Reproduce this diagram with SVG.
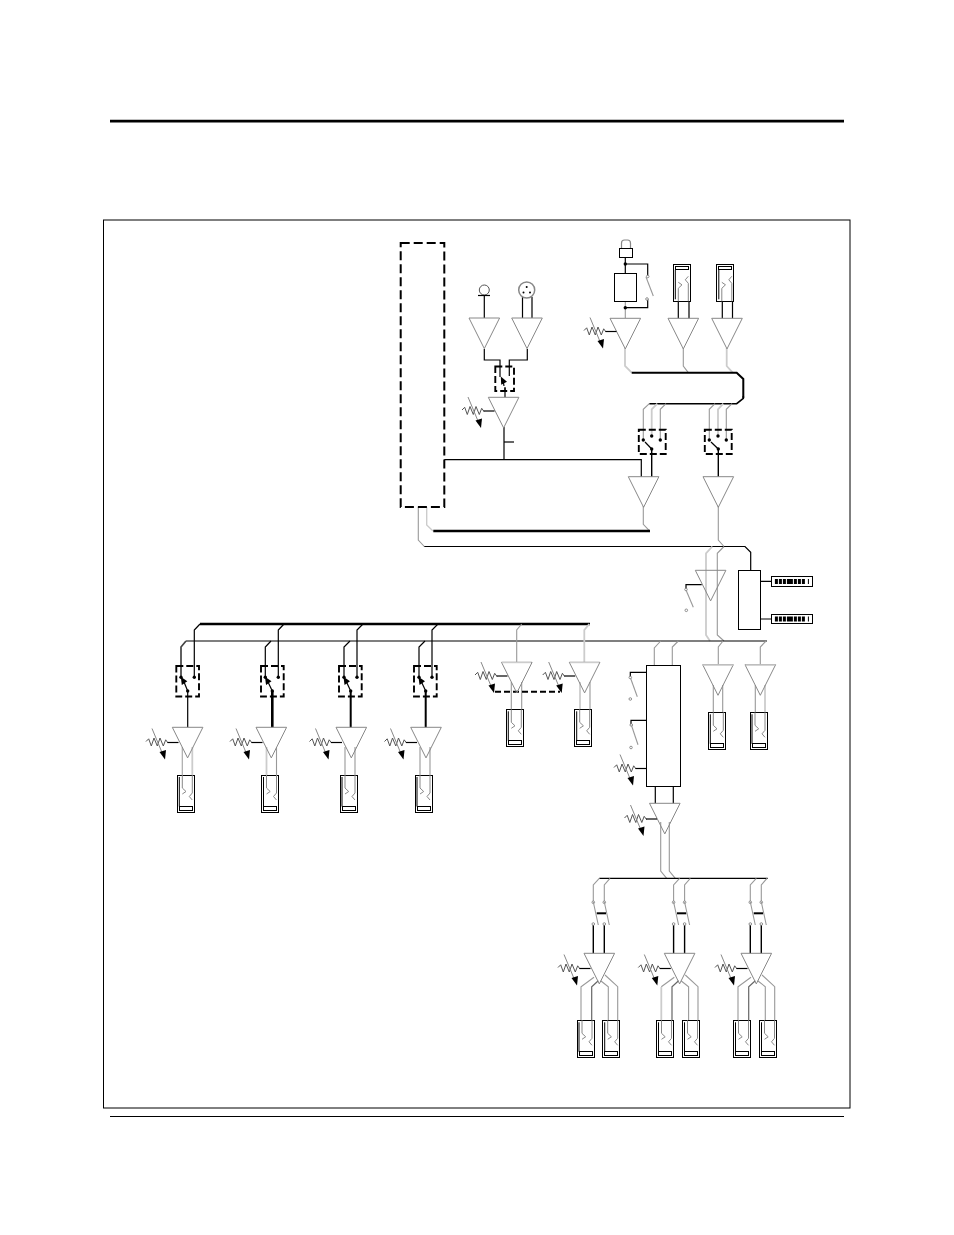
<svg xmlns="http://www.w3.org/2000/svg" width="954" height="1235" viewBox="0 0 954 1235">
<style>
.g{fill:none;stroke:#999;stroke-width:1.1}
.l{fill:none;stroke:#ccc;stroke-width:1.8}
.d{fill:none;stroke:#666;stroke-width:1.2}
.k{fill:none;stroke:#000;stroke-width:1.2}
.k2{fill:none;stroke:#000;stroke-width:2}
.k3{fill:none;stroke:#000;stroke-width:2.6}
.box{fill:#fff;stroke:#000;stroke-width:1;shape-rendering:crispEdges}
.dash{fill:none;stroke:#000;stroke-width:1.9;stroke-dasharray:7 3}
.dot{fill:#000}
.o{fill:#fff;stroke:#777;stroke-width:.8}
.tri{fill:none;stroke:#888;stroke-width:1}
</style>
<defs>
<path id="tri" class="tri" d="M0 0H30.6L15.3 30.6Z"/>
<g id="pot">
<path class="g" style="stroke:#555;stroke-width:1" d="M0 -1L2.7 -3.7L5.3 3.5L8 -4.5L11.3 3.5L14 -4.5L17.3 3.5L19.7 -2.7L22 0.5"/>
<path class="k" d="M21.5 0H32.5"/>
<path class="g" style="stroke:#888;stroke-width:1" d="M6 -14L16 10"/>
<path d="M13.5 9.5L20 7.5L19 17Z"/>
</g>
<g id="jack">
<rect class="box" style="fill:none" x="0" y="0" width="17" height="37"/>
<rect class="box" style="fill:none" x="2" y="31.5" width="13" height="3.5"/>
<path class="k" style="stroke-width:1" d="M2 2V31.5"/>
<path class="g" style="stroke:#888;stroke-width:1" d="M5 0V13L8.7 16.5L5 19M15 0V18L12 21.5L15 25"/>
</g>
<g id="meter">
<rect class="box" x="0" y="0" width="41" height="9.5"/>
<path style="fill:none;stroke:#000;stroke-width:5;stroke-dasharray:3 1 3 1 3 1 6 1 3 1 3 1 3" d="M3.4 4.8H38"/>
</g>
<circle id="o" class="o" r="1.3"/>
<circle id="p" class="dot" r="1.7"/>
<path id="head" d="M-3 3L-0.5 -5L3.5 2Z"/>
</defs>

<g id="page">
<path d="M110 121.2H844" stroke="#000" stroke-width="2.8" fill="none"/>
<path d="M110 1116.5H844" stroke="#000" stroke-width="1" fill="none"/>
<rect x="103.5" y="220" width="746.5" height="888" fill="none" stroke="#000" stroke-width="1"/>
</g>

<g id="connectors">
<path class="k" d="M484.3 295V318M522.5 297V318M532 297V318"/>
<path class="k" d="M484.3 349V360H500V377M527.3 349V360H509.3V376M505 388V397.3M504 427V459.5"/>
<path class="k" d="M504 442H514"/>
<path class="k" d="M444.3 459.7H641.3V476.7"/>
<path class="k" d="M625.3 257V273M625.3 264H647.7V276M647.7 299V307.7H625.3"/>
<path class="g" d="M625.3 301V318"/>
<path class="k" d="M678.3 301.3V318.3M689 301.3V318.3M722.3 301.3V318.3M732.5 301.3V318.3"/>
<path class="l" d="M625 348V366L631.7 372.7M726.7 348V366L732.7 372.7"/>
<path class="g" d="M683.3 348V366L688.3 372.7"/>
<path class="k2" d="M631.7 372.7H736.7L743.3 379V398"/>
<path class="k" style="stroke-width:1.6" d="M743.3 396V398.3L736.7 403.7H649.3"/>
<path class="g" d="M649.3 403.7L643.3 409.3V440M666 403.7L660.3 409.3V440M715 403.7L709.3 409.3V440M732 403.7L726.3 409.3V440"/>
<path class="l" d="M657.3 403.7L651.7 409.3V436M723.3 403.7L718 409.3V436"/>
<path class="k" style="stroke-width:1.4" d="M651.7 449V476.7M718.3 449V476.7"/>
<path class="g" d="M643.3 506V524.3L649.3 530.7M718.3 506V540L724 546.5"/>
<path class="l" style="stroke-width:1.4" d="M426.7 507V525L433 531"/>
<path class="k3" d="M433.3 531H650"/>
<path class="g" d="M418.3 507V540L424.3 546.5"/>
<path class="k" d="M424.3 546.5H745L750.7 552.3V570.3"/>
<path class="l" d="M712.3 546.5L706 553.3V635L710 641"/>
<path class="g" d="M724 546.5L717.3 553.3V635L724 641"/>
<path class="k" d="M701.7 584.7H686V589"/>
<path class="k" d="M760.3 581.3H771.7M760.3 619H771.7"/>
<path class="k3" d="M200 624H590"/>
<path class="k" d="M186 641H767"/>
<path class="k2" style="stroke:#444;stroke-width:1.7" d="M186 641L181 647V677.3"/>
<path class="k" d="M200 624L194.3 630V677.3M187.7 691V727.3"/>
<path class="k" d="M271 641L265.3 647V677.3M284 624L278.3 630V677.3"/>
<path class="k3" d="M272.3 691V727.3"/>
<path class="k" d="M350 641L344 647V677.3M363 624L357 630V677.3"/>
<path class="k2" d="M350.7 691V727.3"/>
<path class="k" d="M425 641L419 647V677.3M438 624L432 630V677.3"/>
<path class="k2" d="M425.7 691V727.3"/>
<path class="d" style="stroke:#aaa" d="M182.3 747V775"/>
<path class="l" d="M192.3 747V775"/>
<path class="l" d="M266.5 747V775"/>
<path class="g" d="M276.5 747V775"/>
<path class="g" d="M345 747V775M355 747V775M420 747V775M430 747V775"/>
<path class="g" d="M521.7 624L516.7 630V662.3"/>
<path class="l" d="M589.3 624L584.3 630V662.3"/>
<path class="g" d="M511.3 682V709.3M521.7 682V709.3M590 682V709.3"/>
<path class="l" d="M580 682V709.3"/>
<path class="k" style="stroke-width:2;stroke-dasharray:6 3" d="M495 691.7H560"/>
<path class="g" d="M660.7 641L654.3 648V665.3M678.3 641L672.3 647V665.3"/>
<path class="k" d="M646 672.3H630.3V677M646 720.3H631V725"/>
<path class="k" d="M655.3 786V803.3M673.3 786V803.3"/>
<path class="g" d="M660.7 822V871L666.7 878.3M669.3 822V871L675.3 878.3"/>
<path class="g" d="M723 641L718.3 647V664.7M766 641L760.3 647V664.7"/>
<path class="g" d="M713.3 685V712.3M722.7 685V712.3M755.3 685V712.3"/>
<path class="l" d="M765 685V712.3"/>
<path class="k" d="M599.3 878.3H767.7"/>
<path class="g" d="M599.3 878.3L593.3 885V902M610 878.3L604.3 885V902"/>
<path class="k" style="stroke-width:1.4" d="M593.3 925V953.3M604.3 925V953.3"/>
<path class="k2" d="M596.7 913.3H606"/>
<path class="g" d="M594 977.3L581 986.7V1020.3M600.7 980.7L608.3 986.7V1020.3M605 975L617.7 986.7V1020.3"/>
<path class="d" d="M598.3 980.7L591.7 986.7V1020.3"/>
<path class="g" d="M679.6 878.3L673.6 885V902M690.3 878.3L684.6 885V902"/>
<path class="k" style="stroke-width:1.4" d="M673.6 925V953.3M684.6 925V953.3"/>
<path class="k2" d="M677 913.3H686.3"/>
<path class="g" d="M681 980.7L688.6 986.7V1020.3M685.3 975L698 986.7V1020.3"/>
<path class="d" d="M678.6 980.7L672 986.7V1020.3"/>
<path class="g" d="M674.3 977.3L661.3 986.7"/>
<path class="l" d="M661.3 987V1020.3"/>
<path class="g" d="M756.3 878.3L750.3 885V902M767 878.3L761.3 885V902"/>
<path class="k" style="stroke-width:1.4" d="M750.3 925V953.3M761.3 925V953.3"/>
<path class="k2" d="M753.7 913.3H763"/>
<path class="g" d="M751 977.3L738 986.7V1020.3M757.7 980.7L765.3 986.7V1020.3M762 975L774.7 986.7V1020.3"/>
<path class="d" d="M755.3 980.7L748.7 986.7V1020.3"/>
</g>

<g id="processor"><rect class="dash" style="stroke-width:2;stroke-dasharray:9 4" x="400.7" y="243" width="43.6" height="264"/></g>

<g id="mic"><circle cx="484.3" cy="290" r="5" fill="none" stroke="#555" stroke-width="1"/><path class="k" d="M478 295.5H490"/></g>
<g id="xlr"><circle cx="526.7" cy="290" r="8" fill="none" stroke="#888" stroke-width="1.5"/><circle class="dot" cx="526.7" cy="287" r="1"/><circle class="dot" cx="523.5" cy="292.5" r="1"/><circle class="dot" cx="530" cy="292.5" r="1"/></g>

<g id="amp1"><use href="#tri" x="469" y="318"/></g>
<g id="amp2"><use href="#tri" x="511.7" y="318"/></g>
<g id="sw-input"><rect class="dash" x="495.3" y="366.5" width="18.7" height="24.5"/><path class="k" d="M504 386L503 380"/><use href="#head" transform="translate(503 381) rotate(-20)"/><path class="k" d="M505 387V391"/></g>
<g id="amp3"><use href="#tri" x="488.3" y="397.3"/><use href="#pot" x="462" y="411"/></g>

<g id="lock"><path fill="none" stroke="#888" stroke-width="1.2" d="M621.5 248V243Q621.5 240 624.5 240H627.5Q630.5 240 630.5 243V248"/><rect class="box" x="619.3" y="248.3" width="12.7" height="9"/></g>
<g id="pwr"><rect class="box" x="614.3" y="273.3" width="22" height="28"/><use href="#p" x="625.3" y="264"/><use href="#p" x="625.3" y="307.7"/><use href="#o" x="647.7" y="276.5"/><use href="#o" x="647" y="299"/><path class="g" d="M646 277L653.3 296"/></g>
<g id="amp4"><use href="#tri" x="610" y="318.3"/><use href="#pot" x="584" y="331.5"/></g>
<g id="jack-t1"><use href="#jack" transform="translate(673.3 301.3) scale(1 -1)"/></g>
<g id="jack-t2"><use href="#jack" transform="translate(716.8 301.3) scale(1 -1)"/></g>
<g id="amp5"><use href="#tri" x="668" y="318.3"/></g>
<g id="amp6"><use href="#tri" x="711.7" y="318.3"/></g>

<g id="sw-a"><rect class="dash" x="638.8" y="429.8" width="26.9" height="24.2"/><use href="#p" x="643.3" y="440"/><use href="#p" x="651.7" y="436"/><use href="#p" x="660.3" y="440"/><use href="#p" x="651.7" y="449"/><path class="k" d="M651.7 449L645 442"/></g>
<g id="sw-b"><rect class="dash" x="704.8" y="429.8" width="26.9" height="24.2"/><use href="#p" x="709.3" y="440"/><use href="#p" x="718" y="436"/><use href="#p" x="726.3" y="440"/><use href="#p" x="718.3" y="449"/><path class="k" d="M718.3 449L711 442"/></g>
<g id="amp7"><use href="#tri" x="628.3" y="476.7"/></g>
<g id="amp8"><use href="#tri" x="703" y="476.7"/></g>

<g id="amp9"><use href="#tri" x="695.3" y="570.3"/><use href="#o" x="686" y="589.5"/><use href="#o" x="686.3" y="610.3"/><path class="g" d="M686 590L693.3 607.3"/></g>
<g id="dsp"><rect class="box" x="738.3" y="570.3" width="22" height="58.7"/></g>
<g id="meter1"><use href="#meter" x="771.5" y="576.7"/></g>
<g id="meter2"><use href="#meter" x="771.5" y="614.3"/></g>

<g id="zone1"><rect class="dash" x="176.3" y="666" width="22.7" height="30.5"/><use href="#p" x="181" y="677.3"/><use href="#p" x="194.3" y="677.3"/><use href="#p" x="187.7" y="691"/><path class="k" d="M187.7 691L184 682"/><use href="#head" transform="translate(183.3 681) rotate(-25)"/><use href="#tri" x="172.3" y="727.3"/><use href="#pot" x="146" y="742.5"/><use href="#jack" x="177.3" y="775"/></g>
<g id="zone2"><rect class="dash" x="261" y="666" width="22.7" height="30.5"/><use href="#p" x="265.3" y="677.3"/><use href="#p" x="278.3" y="677.3"/><use href="#p" x="272.3" y="691"/><path class="k" d="M272.3 691L268 682"/><use href="#head" transform="translate(267.5 681) rotate(-25)"/><use href="#tri" x="256" y="727.3"/><use href="#pot" x="230" y="742.5"/><use href="#jack" x="261.5" y="775"/></g>
<g id="zone3"><rect class="dash" x="339" y="666" width="22.7" height="30.5"/><use href="#p" x="344" y="677.3"/><use href="#p" x="357" y="677.3"/><use href="#p" x="350.7" y="691"/><path class="k" d="M350.7 691L346.5 682"/><use href="#head" transform="translate(346 681) rotate(-25)"/><use href="#tri" x="336" y="727.3"/><use href="#pot" x="309.5" y="742.5"/><use href="#jack" x="340" y="775"/></g>
<g id="zone4"><rect class="dash" x="414" y="666" width="22.7" height="30.5"/><use href="#p" x="419" y="677.3"/><use href="#p" x="432" y="677.3"/><use href="#p" x="425.7" y="691"/><path class="k" d="M425.7 691L421.5 682"/><use href="#head" transform="translate(421 681) rotate(-25)"/><use href="#tri" x="410.7" y="727.3"/><use href="#pot" x="384.5" y="742.5"/><use href="#jack" x="415" y="775"/></g>

<g id="zone5"><use href="#tri" x="501.5" y="662.3"/><path class="l" style="stroke-width:1.4" d="M502 662.5H531"/><use href="#pot" x="475" y="676"/><use href="#jack" x="506.3" y="709.3"/></g>
<g id="zone6"><use href="#tri" x="569.3" y="662.3"/><path class="l" style="stroke-width:1.4" d="M570 662.5H599"/><use href="#pot" x="542.7" y="676"/><use href="#jack" x="574.7" y="709.3"/></g>

<g id="crossover"><rect class="box" x="646" y="665.3" width="34.3" height="121"/><use href="#o" x="630.3" y="677.5"/><use href="#o" x="630.3" y="699"/><path class="g" d="M630.5 678L637.3 696.7"/><use href="#o" x="631.3" y="725"/><use href="#o" x="631" y="747.5"/><path class="g" d="M631.5 725.5L638 744.7"/><use href="#pot" x="614" y="768.5"/></g>
<g id="amp10"><use href="#tri" x="649.5" y="803.3"/><use href="#pot" x="624.5" y="819"/></g>
<g id="zone7"><use href="#tri" x="702.7" y="664.7"/><path class="l" style="stroke-width:1.4" d="M703 665H733"/><use href="#jack" x="708.3" y="712.3"/></g>
<g id="zone8"><use href="#tri" x="745" y="664.7"/><path class="l" style="stroke-width:1.4" d="M745.5 665H775"/><use href="#jack" x="750" y="712.3"/></g>

<g id="room1"><use href="#o" x="593.3" y="902.3"/><use href="#o" x="604.3" y="902.3"/><use href="#o" x="593.3" y="924"/><use href="#o" x="604.3" y="924"/><path class="g" d="M593.3 902L598.3 925M604.3 902L609.3 925"/><use href="#tri" x="584" y="953.3"/><use href="#pot" x="558" y="968.5"/><use href="#jack" x="577" y="1020.3"/><use href="#jack" x="602.7" y="1020.3"/></g>
<g id="room2"><use href="#o" x="673.6" y="902.3"/><use href="#o" x="684.6" y="902.3"/><use href="#o" x="673.6" y="924"/><use href="#o" x="684.6" y="924"/><path class="g" d="M673.6 902L678.6 925M684.6 902L689.6 925"/><use href="#tri" x="664.3" y="953.3"/><use href="#pot" x="638.3" y="968.5"/><use href="#jack" x="656.5" y="1020.3"/><use href="#jack" x="682.5" y="1020.3"/></g>
<g id="room3"><use href="#o" x="750.3" y="902.3"/><use href="#o" x="761.3" y="902.3"/><use href="#o" x="750.3" y="924"/><use href="#o" x="761.3" y="924"/><path class="g" d="M750.3 902L755.3 925M761.3 902L766.3 925"/><use href="#tri" x="741" y="953.3"/><use href="#pot" x="715" y="968.5"/><use href="#jack" x="733.5" y="1020.3"/><use href="#jack" x="759.5" y="1020.3"/></g>
</svg>
